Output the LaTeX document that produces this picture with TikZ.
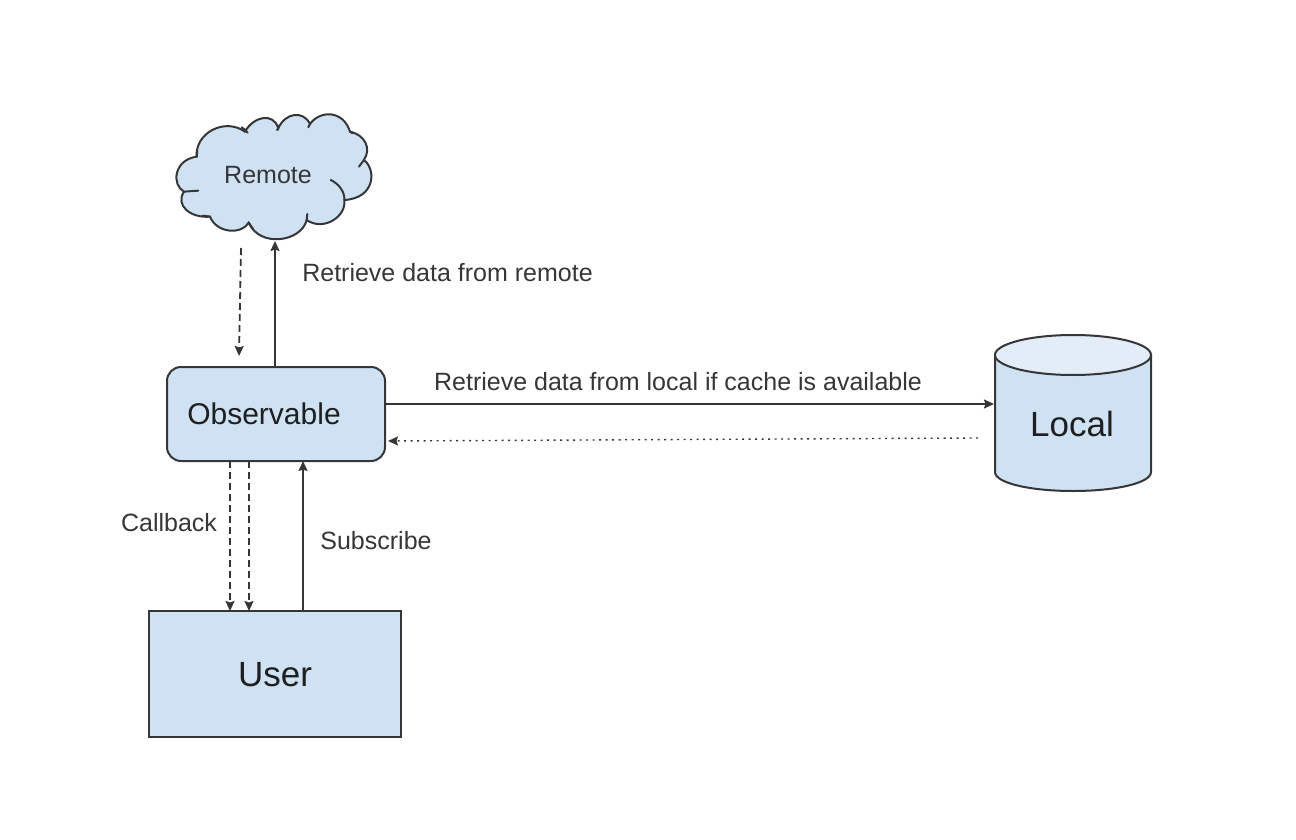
\documentclass[tikz,border=0pt]{standalone}
\usepackage{fontspec}
\setmainfont{Liberation Sans}
\usetikzlibrary{arrows.meta,calc}
\definecolor{boxblue}{HTML}{CFE2F3}
\definecolor{topblue}{HTML}{E2EDF8}
\definecolor{ink}{HTML}{363636}
\tikzset{
  x=1pt,y=-1pt,
  shapeline/.style={draw=ink,line width=2pt,fill=boxblue},
  edgeline/.style={draw=ink,line width=1.8pt,-{Stealth[length=10pt,width=9pt,inset=1.5pt]}},
  dashline/.style={edgeline,dash pattern=on 7pt off 4pt},
  dotline/.style={edgeline,line width=1.4pt,dash pattern=on 2pt off 4.5pt},
  lab/.style={text=ink,inner sep=0pt,font=\fontsize{25}{28}\selectfont},
  boxbig/.style={text=black!88,inner sep=0pt,font=\fontsize{35}{40}\selectfont},
}
\begin{document}
\begin{tikzpicture}
\useasboundingbox (0,0) rectangle (1296,840);
% cloud
\begin{scope}[shift={(160,100)},x=0.3333pt,y=-0.3333pt]
\path[shapeline]
 (110,170) .. controls (105,98) and (195,52) .. (255,95)
 .. controls (280,50) and (340,35) .. (355,85)
 .. controls (375,38) and (430,30) .. (450,72)
 .. controls (480,30) and (550,30) .. (570,95)
 .. controls (615,105) and (635,145) .. (612,180)
 .. controls (650,210) and (645,295) .. (553,300)
 .. controls (560,350) and (490,395) .. (440,360)
 .. controls (425,425) and (300,445) .. (266,368)
 .. controls (245,405) and (170,400) .. (150,350)
 .. controls (90,355) and (45,315) .. (72,275)
 .. controls (35,255) and (40,180) .. (110,170) -- cycle;
\draw[ink,line width=2pt,line cap=round]
 (245,82) .. controls (252,86) and (258,91) .. (263,98)
 (355,85) -- (351,90)
 (450,72) -- (445,82)
 (570,95) -- (578,100)
 (612,180) -- (597,200)
 (512,240) .. controls (535,250) and (555,275) .. (553,300)
 (440,360) -- (442,342)
 (266,368) -- (280,388)
 (150,350) -- (128,347)
 (72,275) -- (115,272)
 (110,170) -- (112,155);
\end{scope}
\node[lab] (remote) at (268,175) {Remote};
\coordinate (cloudbottom) at (275,241);
\coordinate (cloudout) at (241,248);
% observable
\node[shapeline,rounded corners=14pt,minimum width=218pt,minimum height=94pt,inner sep=0pt] (obs) at (276,414) {};
\node[boxbig,font=\fontsize{30}{34}\selectfont] (obslabel) at (264,414) {Observable};
% user
\node[shapeline,minimum width=252pt,minimum height=126pt,inner sep=0pt] (user) at (275,674) {};
\node[boxbig] (userlabel) at (275,675) {User};
% local
\path[shapeline] (995,355) -- (995,472) .. controls (995,483) and (1030,491) .. (1073,491)
  .. controls (1116,491) and (1151,483) .. (1151,472) -- (1151,355) -- cycle;
\path[shapeline,fill=topblue] (1073,355) ellipse [x radius=78,y radius=20];
\node[boxbig] (local) at (1072,424) {Local};
\coordinate (localin) at (994,404);
\coordinate (localout) at (978,438);
\coordinate (obsout) at (385,404);
\coordinate (obsin) at (388,441);
\coordinate (obsdashin) at (239,356);
\coordinate (upstart) at (275,367);
\coordinate (a1) at (230,461);
\coordinate (a2) at (230,611);
\coordinate (b1) at (249,461);
\coordinate (b2) at (249,611);
\coordinate (c1) at (303,611);
\coordinate (c2) at (303,461);
% connectors
\draw[edgeline] (upstart) -- (cloudbottom);
\draw[dashline] (cloudout) -- (obsdashin);
\draw[edgeline] (obsout) -- (localin);
\draw[dotline] (localout) -- (obsin);
\draw[dashline] (a1) -- (a2);
\draw[dashline] (b1) -- (b2);
\draw[edgeline] (c1) -- (c2);
% labels
\node[lab] (l1) at (447.5,273) {Retrieve data from remote};
\node[lab] (l2) at (678,382) {Retrieve data from local if cache is available};
\node[lab] (l3) at (169,523) {Callback};
\node[lab] (l4) at (376,541) {Subscribe};
\end{tikzpicture}
\end{document}
